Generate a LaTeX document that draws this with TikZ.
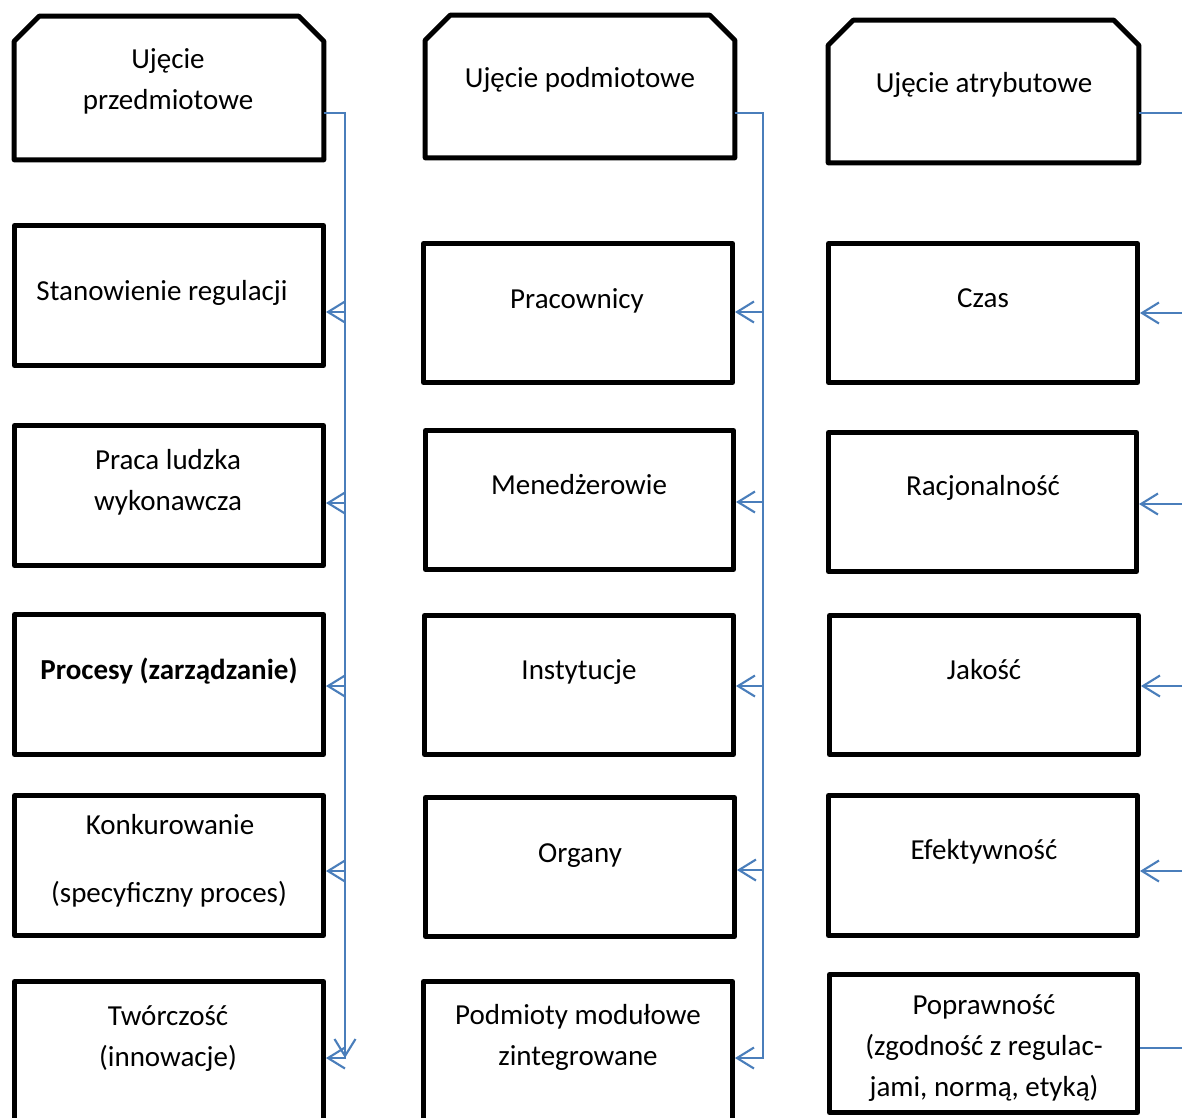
\documentclass[tikz,border=0pt]{standalone}
\usepackage{fontspec}
\setmainfont{Carlito}
\usetikzlibrary{arrows.meta,calc,fit}
\definecolor{connblue}{HTML}{4A7EBB}
\tikzset{
  box/.style={draw=black,line width=2.8pt,rectangle,inner sep=0pt,line join=round},
  hidbox/.style={rectangle,inner sep=0pt},
  boxline/.style={draw=black,line width=2.8pt,line join=round},
  txt/.style={anchor=base,inner sep=0pt,font=\fontsize{16.5}{23.3}\selectfont},
  conn/.style={draw=connblue,line width=1.2pt},
  arr/.style={conn,-{Straight Barb[length=0.34cm,width=0.42cm,line width=1.2pt]}}
}
\newcommand\mybox[5]{\node[box,fit={(#2+2.5,#3+2.5) (#4-2.5,#5-2.5)}] (#1) {};}
\newcommand\mytopbox[5]{%
  \node[hidbox,fit={(#2+2.5,#3+2.5) (#4-2.5,#5-2.5)}] (#1) {};
  \draw[boxline] (#1.south west) -- ($(#1.north west)+(0,25)$) -- ($(#1.north west)+(25,0)$)
    -- ($(#1.north east)+(-25,0)$) -- ($(#1.north east)+(0,25)$) -- (#1.south east) -- cycle;}
\begin{document}
\begin{tikzpicture}[x=0.02cm,y=-0.02cm]
\useasboundingbox (0,0) rectangle (1182,1117);
\clip (0,0) rectangle (1182,1117);
% column 1
\mytopbox{a0}{12}{14}{326}{162}
\mybox{a1}{12}{223}{326}{368}
\mybox{a2}{12}{423}{326}{568}
\mybox{a3}{12}{612}{326}{757}
\mybox{a4}{12}{793}{326}{938}
\mybox{a5}{12}{979}{326}{1140}
% column 2
\mytopbox{b0}{423}{13}{737}{160}
\mybox{b1}{421}{241}{735}{385}
\mybox{b2}{423}{428}{736}{572}
\mybox{b3}{422}{613}{736}{757}
\mybox{b4}{423}{795}{737}{939}
\mybox{b5}{421}{979}{735}{1140}
% column 3
\mytopbox{c0}{826}{18}{1141}{165}
\mybox{c1}{826}{241}{1140}{385}
\mybox{c2}{826}{430}{1139}{574}
\mybox{c3}{827}{613}{1141}{757}
\mybox{c4}{826}{793}{1140}{938}
\mybox{c5}{827}{972}{1140}{1115}
% texts column 1
\node[txt] (ta0a) at (168,68) {Ujęcie};
\node[txt] (ta0b) at (168,109) {przedmiotowe};
\node[txt] (ta1) at (162,300) {Stanowienie regulacji};
\node[txt] (ta2a) at (168,469) {Praca ludzka};
\node[txt] (ta2b) at (168,510) {wykonawcza};
\node[txt,font=\fontsize{16.5}{23.3}\selectfont\bfseries] (ta3) at (169,679) {Procesy (zarządzanie)};
\node[txt] (ta4a) at (170,834) {Konkurowanie};
\node[txt] (ta4b) at (169,902) {(specyficzny proces)};
\node[txt] (ta5a) at (168,1025) {Twórczość};
\node[txt] (ta5b) at (168,1066) {(innowacje)};
% texts column 2
\node[txt] (tb0) at (580,87) {Ujęcie podmiotowe};
\node[txt] (tb1) at (577,308) {Pracownicy};
\node[txt] (tb2) at (579,494) {Menedżerowie};
\node[txt] (tb3) at (579,679) {Instytucje};
\node[txt] (tb4) at (580,862) {Organy};
\node[txt] (tb5a) at (578,1024) {Podmioty modułowe};
\node[txt] (tb5b) at (578,1065) {zintegrowane};
% texts column 3
\node[txt] (tc0) at (984,92) {Ujęcie atrybutowe};
\node[txt] (tc1) at (983,307) {Czas};
\node[txt] (tc2) at (983,495) {Racjonalność};
\node[txt] (tc3) at (984,679) {Jakość};
\node[txt] (tc4) at (984,859) {Efektywność};
\node[txt] (tc5a) at (984,1014) {Poprawność};
\node[txt] (tc5b) at (984,1055) {(zgodność z regulac-};
\node[txt] (tc5c) at (984,1096) {jami, normą, etyką)};
% connectors column 1
\coordinate (a6) at (345,1058);
\draw[arr] ($(a0.east)+(0,25)$) -- ++(21.5,0) |- (a1.east |- 0,312);
\draw[arr] ($(a0.east)+(0,25)$) -- ++(21.5,0) |- (a2.east |- 0,503);
\draw[arr] ($(a0.east)+(0,25)$) -- ++(21.5,0) |- (a3.east |- 0,686);
\draw[arr] ($(a0.east)+(0,25)$) -- ++(21.5,0) |- (a4.east |- 0,871);
\draw[arr] ($(a0.east)+(0,25)$) -- ++(21.5,0) |- (a5.east |- 0,1058);
\draw[arr] ($(a0.east)+(0,25)$) -| (a6);
% connectors column 2
\draw[arr] ($(b0.east)+(0,26.5)$) -- ++(28.5,0) |- (b1.east |- 0,312);
\draw[arr] ($(b0.east)+(0,26.5)$) -- ++(28.5,0) |- (b2.east |- 0,502);
\draw[arr] ($(b0.east)+(0,26.5)$) -- ++(28.5,0) |- (b3.east |- 0,686);
\draw[arr] ($(b0.east)+(0,26.5)$) -- ++(28.5,0) |- (b4.east |- 0,870);
\draw[arr] ($(b0.east)+(0,26.5)$) -- ++(28.5,0) |- (b5.east |- 0,1058);
% connectors column 3 (bus beyond right edge)
\draw[arr] ($(c0.east)+(0,21.5)$) -- ++(70,0) |- (c1.east |- 0,313);
\draw[arr] ($(c0.east)+(0,21.5)$) -- ++(70,0) |- (c2.east |- 0,504);
\draw[arr] ($(c0.east)+(0,21.5)$) -- ++(70,0) |- (c3.east |- 0,686);
\draw[arr] ($(c0.east)+(0,21.5)$) -- ++(70,0) |- (c4.east |- 0,871);
\draw[conn] ($(c0.east)+(0,21.5)$) -- ++(70,0) |- (c5.east |- 0,1048);
\end{tikzpicture}
\end{document}
